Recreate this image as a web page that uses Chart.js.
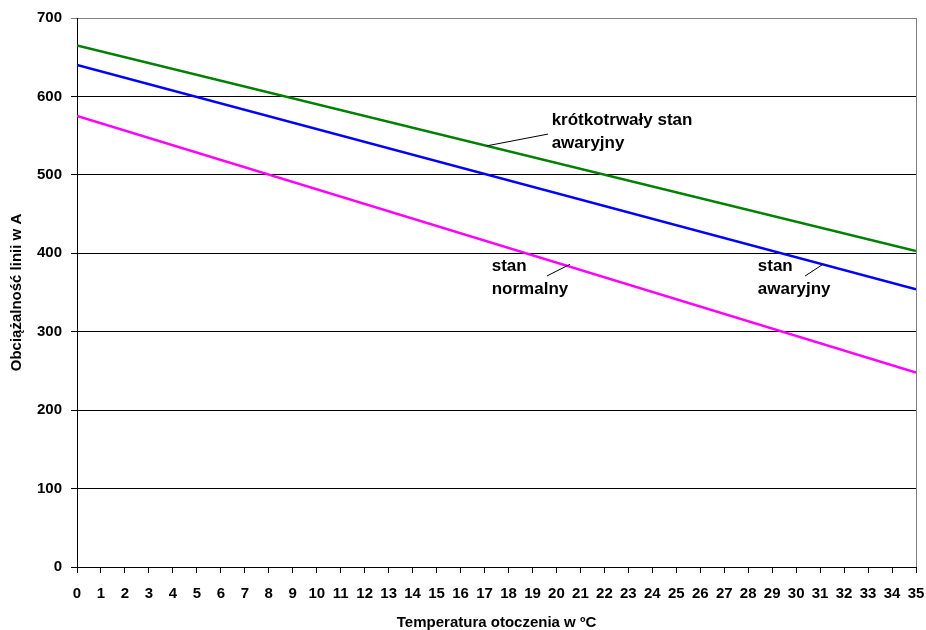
<!DOCTYPE html>
<html>
<head>
<meta charset="utf-8">
<script src="https://cdn.jsdelivr.net/npm/chart.js@4.4.1/dist/chart.umd.min.js"></script>
<style>
  html, body { margin: 0; padding: 0; background: #fff; }
  #wrap { width: 926px; height: 630px; }
</style>
</head>
<body>
<div id="wrap"><canvas id="c"></canvas></div>
<script>
// Wartości (temperatura -> obciążalność)
const temps = [0, 35];
const krotkotrwaly = [665, 403];
const awaryjny = [640, 354];
const normalny = [575, 248];

const yTicks = [0, 100, 200, 300, 400, 500, 600, 700];

// opisy linii: tekst + odcinek prowadzący (w jednostkach danych)
const labels = [
    { lines: ['krótkotrwały stan', 'awaryjny'], at: [19.8, 570], lead: [[17.1, 537], [19.65, 552]] },
    { lines: ['stan', 'awaryjny'], at: [28.4, 384], lead: [[30.37, 371], [31.12, 386]] },
    { lines: ['stan', 'normalny'], at: [17.3, 384], lead: [[19.6, 371], [20.57, 386]] }
];

const toPts = (vals) => vals.map((v, i) => ({ x: temps[i], y: v }));

const annotate = {
    id: 'annotate',
    afterDatasetsDraw(chart) {
        const { ctx, scales: { x, y }, chartArea } = chart;
        ctx.save();
        // prawa krawędź obszaru wykresu
        ctx.strokeStyle = '#808080';
        ctx.lineWidth = 1;
        ctx.beginPath();
        ctx.moveTo(chartArea.right + 0.5, chartArea.top);
        ctx.lineTo(chartArea.right + 0.5, chartArea.bottom);
        ctx.stroke();

        ctx.font = 'bold 17px "Liberation Sans", Arial, sans-serif';
        ctx.fillStyle = '#000';
        ctx.textBaseline = 'middle';
        labels.forEach(l => {
            const px = x.getPixelForValue(l.at[0]);
            const py = y.getPixelForValue(l.at[1]);
            l.lines.forEach((t, i) => ctx.fillText(t, px, py + i * 23));
            ctx.strokeStyle = '#000';
            ctx.beginPath();
            ctx.moveTo(x.getPixelForValue(l.lead[0][0]), y.getPixelForValue(l.lead[0][1]));
            ctx.lineTo(x.getPixelForValue(l.lead[1][0]), y.getPixelForValue(l.lead[1][1]));
            ctx.stroke();
        });
        ctx.restore();
    }
};

const font = { family: '"Liberation Sans", Arial, sans-serif', weight: 'bold' };

new Chart(document.getElementById('c'), {
    type: 'line',
    data: {
        datasets: [
            { label: 'krótkotrwały stan awaryjny', data: toPts(krotkotrwaly), borderColor: '#008000', borderWidth: 2.5, pointRadius: 0 },
            { label: 'stan awaryjny', data: toPts(awaryjny), borderColor: '#0000ff', borderWidth: 2.5, pointRadius: 0 },
            { label: 'stan normalny', data: toPts(normalny), borderColor: '#ff00ff', borderWidth: 2.5, pointRadius: 0 }
        ]
    },
    options: {
        responsive: true,
        maintainAspectRatio: false,
        animation: false,
        layout: { padding: { top: 17, right: 0, left: 4, bottom: 0 } },
        plugins: {
            legend: { display: false },
            tooltip: { enabled: false }
        },
        scales: {
            x: {
                type: 'linear',
                min: 0,
                max: 35,
                afterFit: (s) => { s.paddingRight = 10; s.paddingLeft = 0; },
                ticks: { stepSize: 1, color: '#000', font: { ...font, size: 15 }, maxRotation: 0, autoSkip: false, padding: 12 },
                grid: { display: true, drawOnChartArea: false, drawTicks: true, tickLength: 6, color: '#000' },
                border: { color: '#000', width: 1 },
                title: { display: true, text: 'Temperatura otoczenia w ºC', color: '#000', font: { ...font, size: 15, lineHeight: 1 }, padding: { top: 0, bottom: 0 } }
            },
            y: {
                min: 0,
                max: 700,
                afterBuildTicks: (s) => { s.ticks = yTicks.map(v => ({ value: v })); },
                ticks: { color: '#000', font: { ...font, size: 15 }, padding: 9 },
                grid: { color: (c) => c.tick && c.tick.value === 700 ? '#808080' : '#000', tickLength: 6, lineWidth: 1 },
                border: { color: '#000', width: 1 },
                title: { display: true, text: 'Obciążalność linii w A', color: '#000', font: { ...font, size: 15 }, padding: { bottom: 2 } }
            }
        }
    },
    plugins: [annotate]
});
</script>
</body>
</html>
